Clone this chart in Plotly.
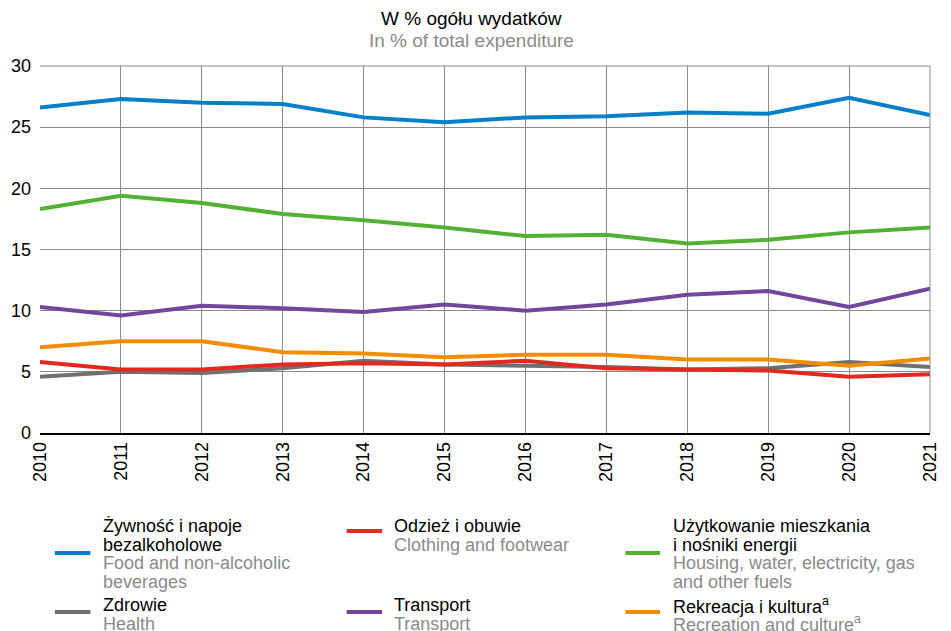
import plotly.graph_objects as go

years = list(range(2010, 2022))
food = [26.6, 27.3, 27.0, 26.9, 25.8, 25.4, 25.8, 25.9, 26.2, 26.1, 27.4, 26.0]
housing = [18.3, 19.4, 18.8, 17.9, 17.4, 16.8, 16.1, 16.2, 15.5, 15.8, 16.4, 16.8]
transport = [10.3, 9.6, 10.4, 10.2, 9.9, 10.5, 10.0, 10.5, 11.3, 11.6, 10.3, 11.8]
recreation = [7.0, 7.5, 7.5, 6.6, 6.5, 6.2, 6.4, 6.4, 6.0, 6.0, 5.5, 6.1]
clothing = [5.8, 5.2, 5.2, 5.6, 5.7, 5.6, 5.9, 5.3, 5.2, 5.1, 4.6, 4.8]
health = [4.6, 5.0, 4.9, 5.3, 5.9, 5.6, 5.5, 5.4, 5.2, 5.3, 5.8, 5.4]
y_ticks = [0, 5, 10, 15, 20, 25, 30]

BLUE = "#0080C8"
GREEN = "#52B032"
RED = "#E3281E"
GRAY = "#707070"
PURPLE = "#70479A"
ORANGE = "#F28C00"
GRID = "#8a8a8a"
GT = "#8a8a8a"

series = [
    (health, GRAY),
    (clothing, RED),
    (recreation, ORANGE),
    (transport, PURPLE),
    (housing, GREEN),
    (food, BLUE),
]

fig = go.Figure()
for vals, col in series:
    fig.add_trace(go.Scatter(x=years, y=vals, mode="lines",
                             line=dict(color=col, width=4),
                             showlegend=False, hoverinfo="skip"))

FONT = "Liberation Sans, Arial, sans-serif"
NARROW = "Liberation Sans Narrow, Arial Narrow, Liberation Sans, sans-serif"
W, H = 951, 631
L, R, T, B = 40, 11, 66, 198
PW = W - L - R
PH = H - T - B

fig.update_layout(
    width=W, height=H, autosize=False,
    margin=dict(l=L, r=R, t=T, b=B, pad=0),
    paper_bgcolor="white", plot_bgcolor="white",
    font=dict(family=FONT, size=18, color="black"),
    xaxis=dict(range=[2010, 2021], tickmode="array", tickvals=years,
               ticktext=[str(y) for y in years], tickangle=-90,
               showgrid=True, gridcolor=GRID, gridwidth=1,
               showline=True, linecolor="black", linewidth=1.5,
               zeroline=False, ticks="", tickfont=dict(size=18)),
    yaxis=dict(range=[0, 30], tickmode="array", tickvals=y_ticks,
               showgrid=True, gridcolor=GRID, gridwidth=1,
               zeroline=False, showline=False, ticks="",
               ticklabelstandoff=8,
               tickfont=dict(size=18)),
)


def to_paper_x(wx):
    return (wx - L) / PW


def to_paper_y(wy):
    return (H - B - wy) / PH


def text_at(text, wx, wy, color="black", size=18, xanchor="left", family=FONT):
    fig.add_annotation(text=text, xref="paper", yref="paper",
                       x=to_paper_x(wx), y=to_paper_y(wy),
                       xanchor=xanchor, yanchor="middle", showarrow=False,
                       font=dict(size=size, color=color, family=family))


def swatch(x0, x1, wy, color):
    fig.add_shape(type="line", xref="paper", yref="paper",
                  x0=to_paper_x(x0), x1=to_paper_x(x1),
                  y0=to_paper_y(wy), y1=to_paper_y(wy),
                  line=dict(color=color, width=4))


# top and right borders
fig.add_shape(type="line", xref="paper", yref="paper", x0=0, x1=1, y0=1, y1=1,
              line=dict(color=GRID, width=1))
fig.add_shape(type="line", xref="paper", yref="paper", x0=1, x1=1, y0=0, y1=1,
              line=dict(color=GRID, width=1))

# Titles
text_at("W % ogółu wydatków", 476, 18, "black", 19, "center", NARROW)
text_at("In % of total expenditure", 476, 40, GT, 19, "center", NARROW)

LH = 18.5
legend_items = [
    (55, 91, 102, 526, BLUE, ["Żywność i napoje", "bezalkoholowe"],
     ["Food and non-alcoholic", "beverages"], 553),
    (350, 386, 396, 526, RED, ["Odzież i obuwie"],
     ["Clothing and footwear"], 531),
    (632, 667, 678, 526, GREEN, ["Użytkowanie mieszkania", "i nośniki energii"],
     ["Housing, water, electricity, gas", "and other fuels"], 553),
    (55, 91, 102, 605, GRAY, ["Zdrowie"], ["Health"], 612),
    (350, 386, 396, 605, PURPLE, ["Transport"], ["Transport"], 612),
    (632, 667, 678, 605, ORANGE, ["Rekreacja i kultura<sup>a</sup>"],
     ["Recreation and culture<sup>a</sup>"], 612),
]
for sx0, sx1, tx, ty, col, pl, en, sy in legend_items:
    swatch(sx0, sx1, sy, col)
    yy = ty
    for line in pl:
        text_at(line, tx, yy, "black")
        yy += LH
    for line in en:
        text_at(line, tx, yy, GT)
        yy += LH

fig.write_html(
    "out.html",
    config={"responsive": False, "displayModeBar": False},
    post_script="document.body.style.margin='0';document.body.style.overflow='hidden';",
)
